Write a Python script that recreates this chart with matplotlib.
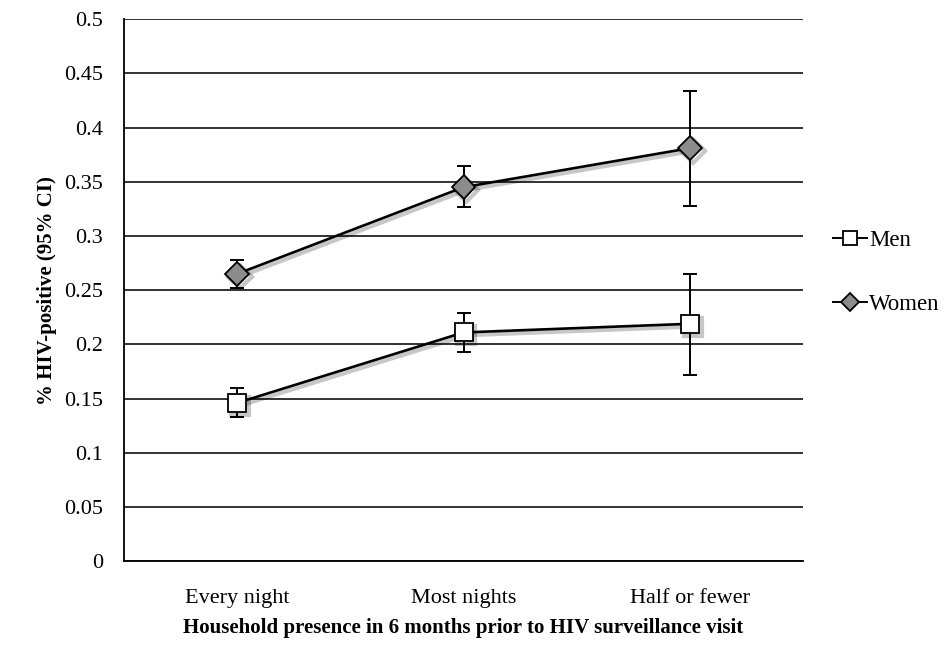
import matplotlib
matplotlib.use('Agg')
import matplotlib.pyplot as plt
import matplotlib.patheffects as pe

categories = ['Every night', 'Most nights', 'Half or fewer']
men = [0.146, 0.211, 0.219]
men_low = [0.133, 0.193, 0.172]
men_high = [0.160, 0.229, 0.265]
women = [0.265, 0.345, 0.381]
women_low = [0.252, 0.327, 0.328]
women_high = [0.278, 0.365, 0.434]
yticks = [0, 0.05, 0.1, 0.15, 0.2, 0.25, 0.3, 0.35, 0.4, 0.45, 0.5]
ytick_labels = ['0', '0.05', '0.1', '0.15', '0.2', '0.25', '0.3', '0.35', '0.4', '0.45', '0.5']

plt.rcParams['font.family'] = ['Liberation Serif', 'DejaVu Serif']

fig = plt.figure(figsize=(9.46, 6.61), dpi=100)
ax = fig.add_axes([0.131, 0.151, 0.718, 0.820])

x = list(range(len(categories)))
shadow = [pe.SimpleLineShadow(offset=(2, -2), shadow_color='black', alpha=0.22, linewidth=3),
          pe.Normal()]

series = [
    ('Men', men, men_low, men_high, 's', 'white', 13),
    ('Women', women, women_low, women_high, 'D', '#8c8c8c', 12),
]
for name, vals, lo, hi, mk, fc, ms in series:
    yerr = [[v - l for v, l in zip(vals, lo)], [h - v for v, h in zip(vals, hi)]]
    ax.errorbar(x, vals, yerr=yerr, fmt='none', ecolor='black', elinewidth=1.4,
                capsize=5, capthick=1.4, zorder=3)
    ax.plot(x, vals, color='black', lw=1.9, marker=mk, markersize=ms,
            markerfacecolor=fc, markeredgecolor='black', markeredgewidth=1.3,
            label=name, zorder=4, path_effects=shadow)

ax.set_xlim(-0.5, 2.5)
ax.set_ylim(0, 0.5)
ax.set_yticks(yticks)
ax.set_yticklabels(ytick_labels, fontsize=16)
ax.set_xticks(x)
ax.set_xticklabels(categories, fontsize=16)
ax.tick_params(axis='y', length=0, pad=15)
ax.tick_params(axis='x', length=0, pad=20)
ax.yaxis.grid(True, color='#222222', lw=1.3)
ax.set_axisbelow(True)
for s in ['top', 'right']:
    ax.spines[s].set_visible(False)
ax.spines['left'].set_linewidth(1.3)
ax.spines['bottom'].set_linewidth(1.3)

ax.set_ylabel('% HIV-positive (95% CI)', fontsize=15, fontweight='bold', labelpad=5)
ax.set_xlabel('Household presence in 6 months prior to HIV surveillance visit',
              fontsize=15, fontweight='bold', labelpad=7)

leg = ax.legend(loc='center left', bbox_to_anchor=(1.013, 0.533), frameon=False,
                fontsize=16.5, handlelength=1.5, handletextpad=0.1, labelspacing=1.9,
                markerscale=0.8)
for h in leg.legend_handles:
    h.set_linewidth(1.4)
    h.set_path_effects([])

fig.savefig('out.png', dpi=100)
